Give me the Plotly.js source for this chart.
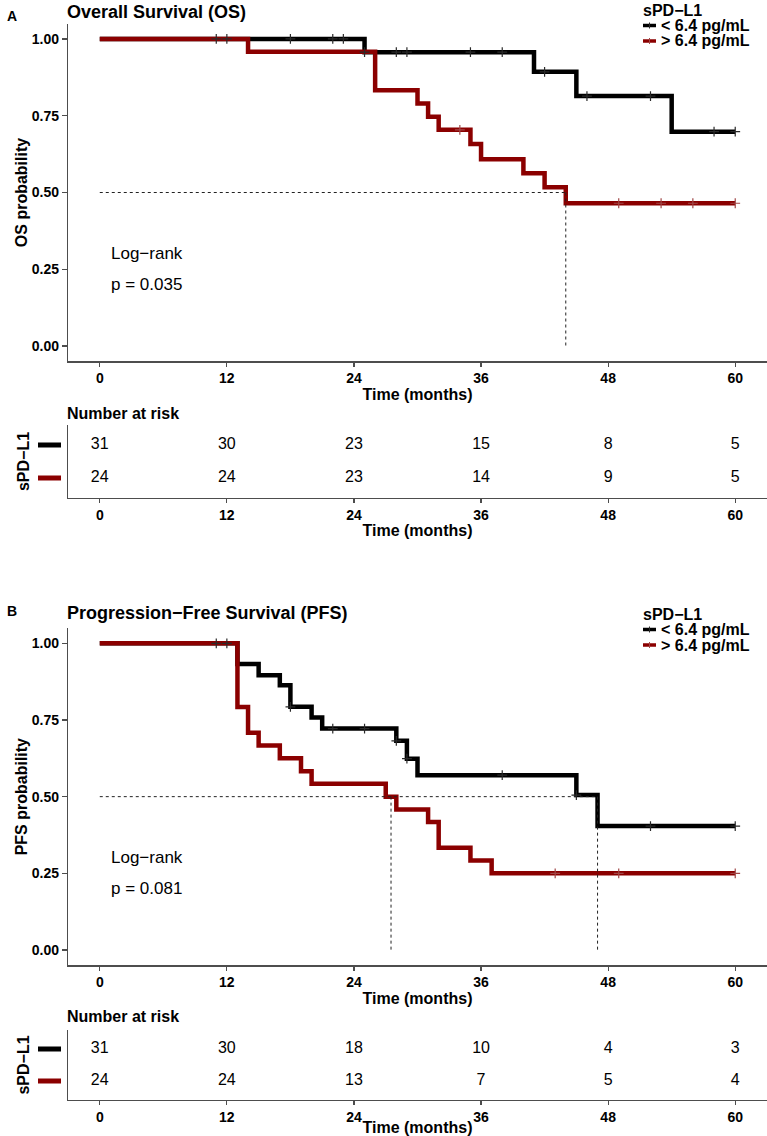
<!DOCTYPE html>
<html>
<head>
<meta charset="utf-8">
<script src="https://cdn.plot.ly/plotly-3.0.1.min.js"></script>
<style>html,body{margin:0;padding:0;background:#fff}#chart{width:767px;height:1136px}</style>
</head>
<body>
<div id="chart"></div>
<script>
// ---------- data ----------
const legendTitle = 'sPD\u2212L1';
const groupNames = ['< 6.4 pg/mL', '> 6.4 pg/mL'];
const groupColors = ['#000000', '#8B0000'];
const censorColors = ['#2a2a2a', '#a04848'];
const timeTicks = [0, 12, 24, 36, 48, 60];
const probTicks = [0, 0.25, 0.5, 0.75, 1];
const probTickLabels = ['0.00', '0.25', '0.50', '0.75', '1.00'];

// Overall survival (OS)
const osLowTime = [0, 25, 41, 45, 54, 60];
const osLowSurv = [1.00, 0.957, 0.893, 0.814, 0.698, 0.698];
const osLowCensTime = [11, 12, 18, 22, 23, 25, 28, 29, 35, 38, 42, 46, 52, 58, 60];
const osLowCensSurv = [1, 1, 1, 1, 1, 0.957, 0.957, 0.957, 0.957, 0.957, 0.893, 0.814, 0.814, 0.698, 0.698];
const osHighTime = [0, 14, 26, 30, 31, 32, 35, 36, 40, 42, 44, 60];
const osHighSurv = [1.00, 0.958, 0.833, 0.790, 0.747, 0.704, 0.658, 0.608, 0.563, 0.517, 0.465, 0.465];
const osHighCensTime = [34, 49, 53, 56, 60];
const osHighCensSurv = [0.704, 0.465, 0.465, 0.465, 0.465];
const osMedians = [44];
const osRiskLow = [31, 30, 23, 15, 8, 5];
const osRiskHigh = [24, 24, 23, 14, 9, 5];
const osPval = 'p = 0.035';

// Progression-free survival (PFS)
const pfsLowTime = [0, 13, 15, 17, 18, 20, 21, 28, 29, 30, 45, 47, 60];
const pfsLowSurv = [1.00, 0.933, 0.896, 0.863, 0.793, 0.758, 0.722, 0.682, 0.624, 0.570, 0.505, 0.404, 0.404];
const pfsLowCensTime = [11, 12, 18, 22, 25, 28, 29, 38, 45, 52, 60];
const pfsLowCensSurv = [1, 1, 0.793, 0.722, 0.722, 0.682, 0.624, 0.570, 0.505, 0.404, 0.404];
const pfsHighTime = [0, 13, 14, 15, 17, 19, 20, 27, 28, 31, 32, 35, 37, 60];
const pfsHighSurv = [1.00, 0.792, 0.708, 0.667, 0.625, 0.583, 0.542, 0.500, 0.458, 0.417, 0.333, 0.292, 0.250, 0.250];
const pfsHighCensTime = [43, 49, 60];
const pfsHighCensSurv = [0.25, 0.25, 0.25];
const pfsMedians = [27.5, 47];
const pfsRiskLow = [31, 30, 18, 10, 4, 3];
const pfsRiskHigh = [24, 24, 13, 7, 5, 4];
const pfsPval = 'p = 0.081';

// ---------- layout helpers ----------
const H = 1136, W = 767;
const FONT = 'Liberation Sans, Arial, Helvetica, sans-serif';
const py = p => 1 - p / H;
const px = p => p / W;
const xDom = [px(68), 1];
const axisColor = '#4d4d4d';

function xAxis(anchor) {
  return {
    domain: xDom, anchor: anchor, range: [-3, 63],
    tickvals: timeTicks, ticktext: timeTicks.map(String),
    showline: true, linecolor: axisColor, linewidth: 1.2,
    ticks: 'outside', ticklen: 4, tickcolor: axisColor, tickwidth: 1.2,
    tickfont: {family: FONT, size: 14, color: '#000', weight: 'bold'},
    showgrid: false, zeroline: false,
    title: {text: 'Time (months)', font: {family: FONT, size: 16, color: '#000', weight: 'bold'}, standoff: 3}
  };
}
function yMain(anchor, dom, label) {
  return {
    domain: dom, anchor: anchor, range: [-0.05, 1.05],
    tickvals: probTicks, ticktext: probTickLabels,
    showline: true, linecolor: axisColor, linewidth: 1.2,
    ticks: 'outside', ticklen: 5, tickcolor: axisColor, tickwidth: 1.2,
    tickfont: {family: FONT, size: 14, color: '#000', weight: 'bold'},
    showgrid: false, zeroline: false,
    title: {text: label, font: {family: FONT, size: 16, color: '#000', weight: 'bold'}, standoff: 0}
  };
}
function yRisk(anchor, dom) {
  return {
    domain: dom, anchor: anchor, range: [0.4, 2.6],
    tickvals: [1, 2], ticktext: ['', ''],
    showline: true, linecolor: axisColor, linewidth: 1.2,
    ticks: '', showgrid: false, zeroline: false,
    title: {text: legendTitle, font: {family: FONT, size: 16, color: '#000', weight: 'bold'}, standoff: 30}
  };
}

const traces = [];
function addPanel(xa, ya, lowT, lowS, highT, highS, lowCT, lowCS, highCT, highCS, medians) {
  const curves = [[lowT, lowS, lowCT, lowCS], [highT, highS, highCT, highCS]];
  curves.forEach((c, i) => {
    traces.push({
      x: c[0], y: c[1], xaxis: xa, yaxis: ya, type: 'scatter', mode: 'lines',
      line: {shape: 'hv', color: groupColors[i], width: 4.5},
      name: groupNames[i], showlegend: false, hoverinfo: 'skip'
    });
  });
  curves.forEach((c, i) => {
    traces.push({
      x: c[2], y: c[3], xaxis: xa, yaxis: ya, type: 'scatter', mode: 'markers',
      marker: {symbol: 'cross-thin', size: 7, color: censorColors[i], line: {width: 1.2, color: censorColors[i]}},
      name: groupNames[i] + ' (censored)', showlegend: false, hoverinfo: 'skip', cliponaxis: false
    });
  });
  const mx = [0, Math.max(...medians)], my = [0.5, 0.5];
  medians.forEach(m => { mx.push(null, m, m); my.push(null, 0.5, 0); });
  traces.push({
    x: mx, y: my, xaxis: xa, yaxis: ya, type: 'scatter', mode: 'lines',
    line: {color: '#222', width: 1, dash: '3px,3px'}, showlegend: false, hoverinfo: 'skip'
  });
}
function addRisk(xa, ya, low, high) {
  [[low, 2], [high, 1]].forEach(r => {
    traces.push({
      x: timeTicks, y: timeTicks.map(() => r[1]), text: r[0].map(String),
      xaxis: xa, yaxis: ya, type: 'scatter', mode: 'text',
      textfont: {family: FONT, size: 16, color: '#000'}, textposition: 'middle center',
      showlegend: false, hoverinfo: 'skip', cliponaxis: false
    });
  });
}

addPanel('x', 'y', osLowTime, osLowSurv, osHighTime, osHighSurv, osLowCensTime, osLowCensSurv, osHighCensTime, osHighCensSurv, osMedians);
addRisk('x2', 'y2', osRiskLow, osRiskHigh);
addPanel('x3', 'y3', pfsLowTime, pfsLowSurv, pfsHighTime, pfsHighSurv, pfsLowCensTime, pfsLowCensSurv, pfsHighCensTime, pfsHighCensSurv, pfsMedians);
addRisk('x4', 'y4', pfsRiskLow, pfsRiskHigh);

function ann(text, x, y, size, bold, opts) {
  return Object.assign({
    text: text, xref: 'paper', yref: 'paper', x: x, y: y, xanchor: 'left', yanchor: 'middle',
    showarrow: false, borderpad: 0,
    font: {family: FONT, size: size, color: '#000', weight: bold ? 'bold' : 'normal'}
  }, opts || {});
}

const shapes = [];
const annotations = [];
// risk-table row keys
['y2', 'y4'].forEach(yr => {
  groupColors.forEach((col, i) => {
    shapes.push({type: 'line', xref: 'paper', yref: yr, x0: px(38), x1: px(61), y0: 2 - i, y1: 2 - i,
                 line: {color: col, width: 5}});
  });
});
// legends (one per panel), top pixel of each block
[0, 604].forEach(top => {
  annotations.push(ann(legendTitle, px(642), py(top + 10), 16, true));
  groupNames.forEach((g, i) => {
    const yy = top + 25.5 + 15.5 * i;
    shapes.push({type: 'line', xref: 'paper', yref: 'paper', x0: px(643), x1: px(656), y0: py(yy), y1: py(yy),
                 line: {color: groupColors[i], width: 3.5}});
    shapes.push({type: 'line', xref: 'paper', yref: 'paper', x0: px(649.5), x1: px(649.5), y0: py(yy - 3), y1: py(yy + 3),
                 line: {color: censorColors[i], width: 1}});
    annotations.push(ann(g, px(660), py(yy), 16, true));
  });
});

annotations.push(
  ann('A', px(6), py(16), 14, true),
  ann('Overall Survival (OS)', px(66), py(12), 18, true),
  ann('Number at risk', px(66), py(413), 16, true),
  ann('B', px(6), py(611), 14, true),
  ann('Progression\u2212Free Survival (PFS)', px(66), py(613), 18, true),
  ann('Number at risk', px(66), py(1017), 16, true),
  ann('Log\u2212rank', 1, 0.3, 17, false, {xref: 'x', yref: 'y'}),
  ann(osPval, 1, 0.2, 17, false, {xref: 'x', yref: 'y'}),
  ann('Log\u2212rank', 1, 0.3, 17, false, {xref: 'x3', yref: 'y3'}),
  ann(pfsPval, 1, 0.2, 17, false, {xref: 'x3', yref: 'y3'})
);

const layout = {
  width: W, height: H, margin: {l: 0, r: 0, t: 0, b: 0},
  paper_bgcolor: '#fff', plot_bgcolor: '#fff', showlegend: false,
  xaxis: xAxis('y'), yaxis: yMain('x', [py(361.4), py(23.6)], 'OS probability'),
  xaxis2: xAxis('y2'), yaxis2: yRisk('x2', [py(497.8), py(425.2)]),
  xaxis3: xAxis('y3'), yaxis3: yMain('x3', [py(965.3), py(628)], 'PFS probability'),
  xaxis4: xAxis('y4'), yaxis4: yRisk('x4', [py(1100.2), py(1029.8)]),
  shapes: shapes,
  annotations: annotations
};

Plotly.newPlot('chart', traces, layout, {displayModeBar: false, staticPlot: true});
</script>
</body>
</html>
